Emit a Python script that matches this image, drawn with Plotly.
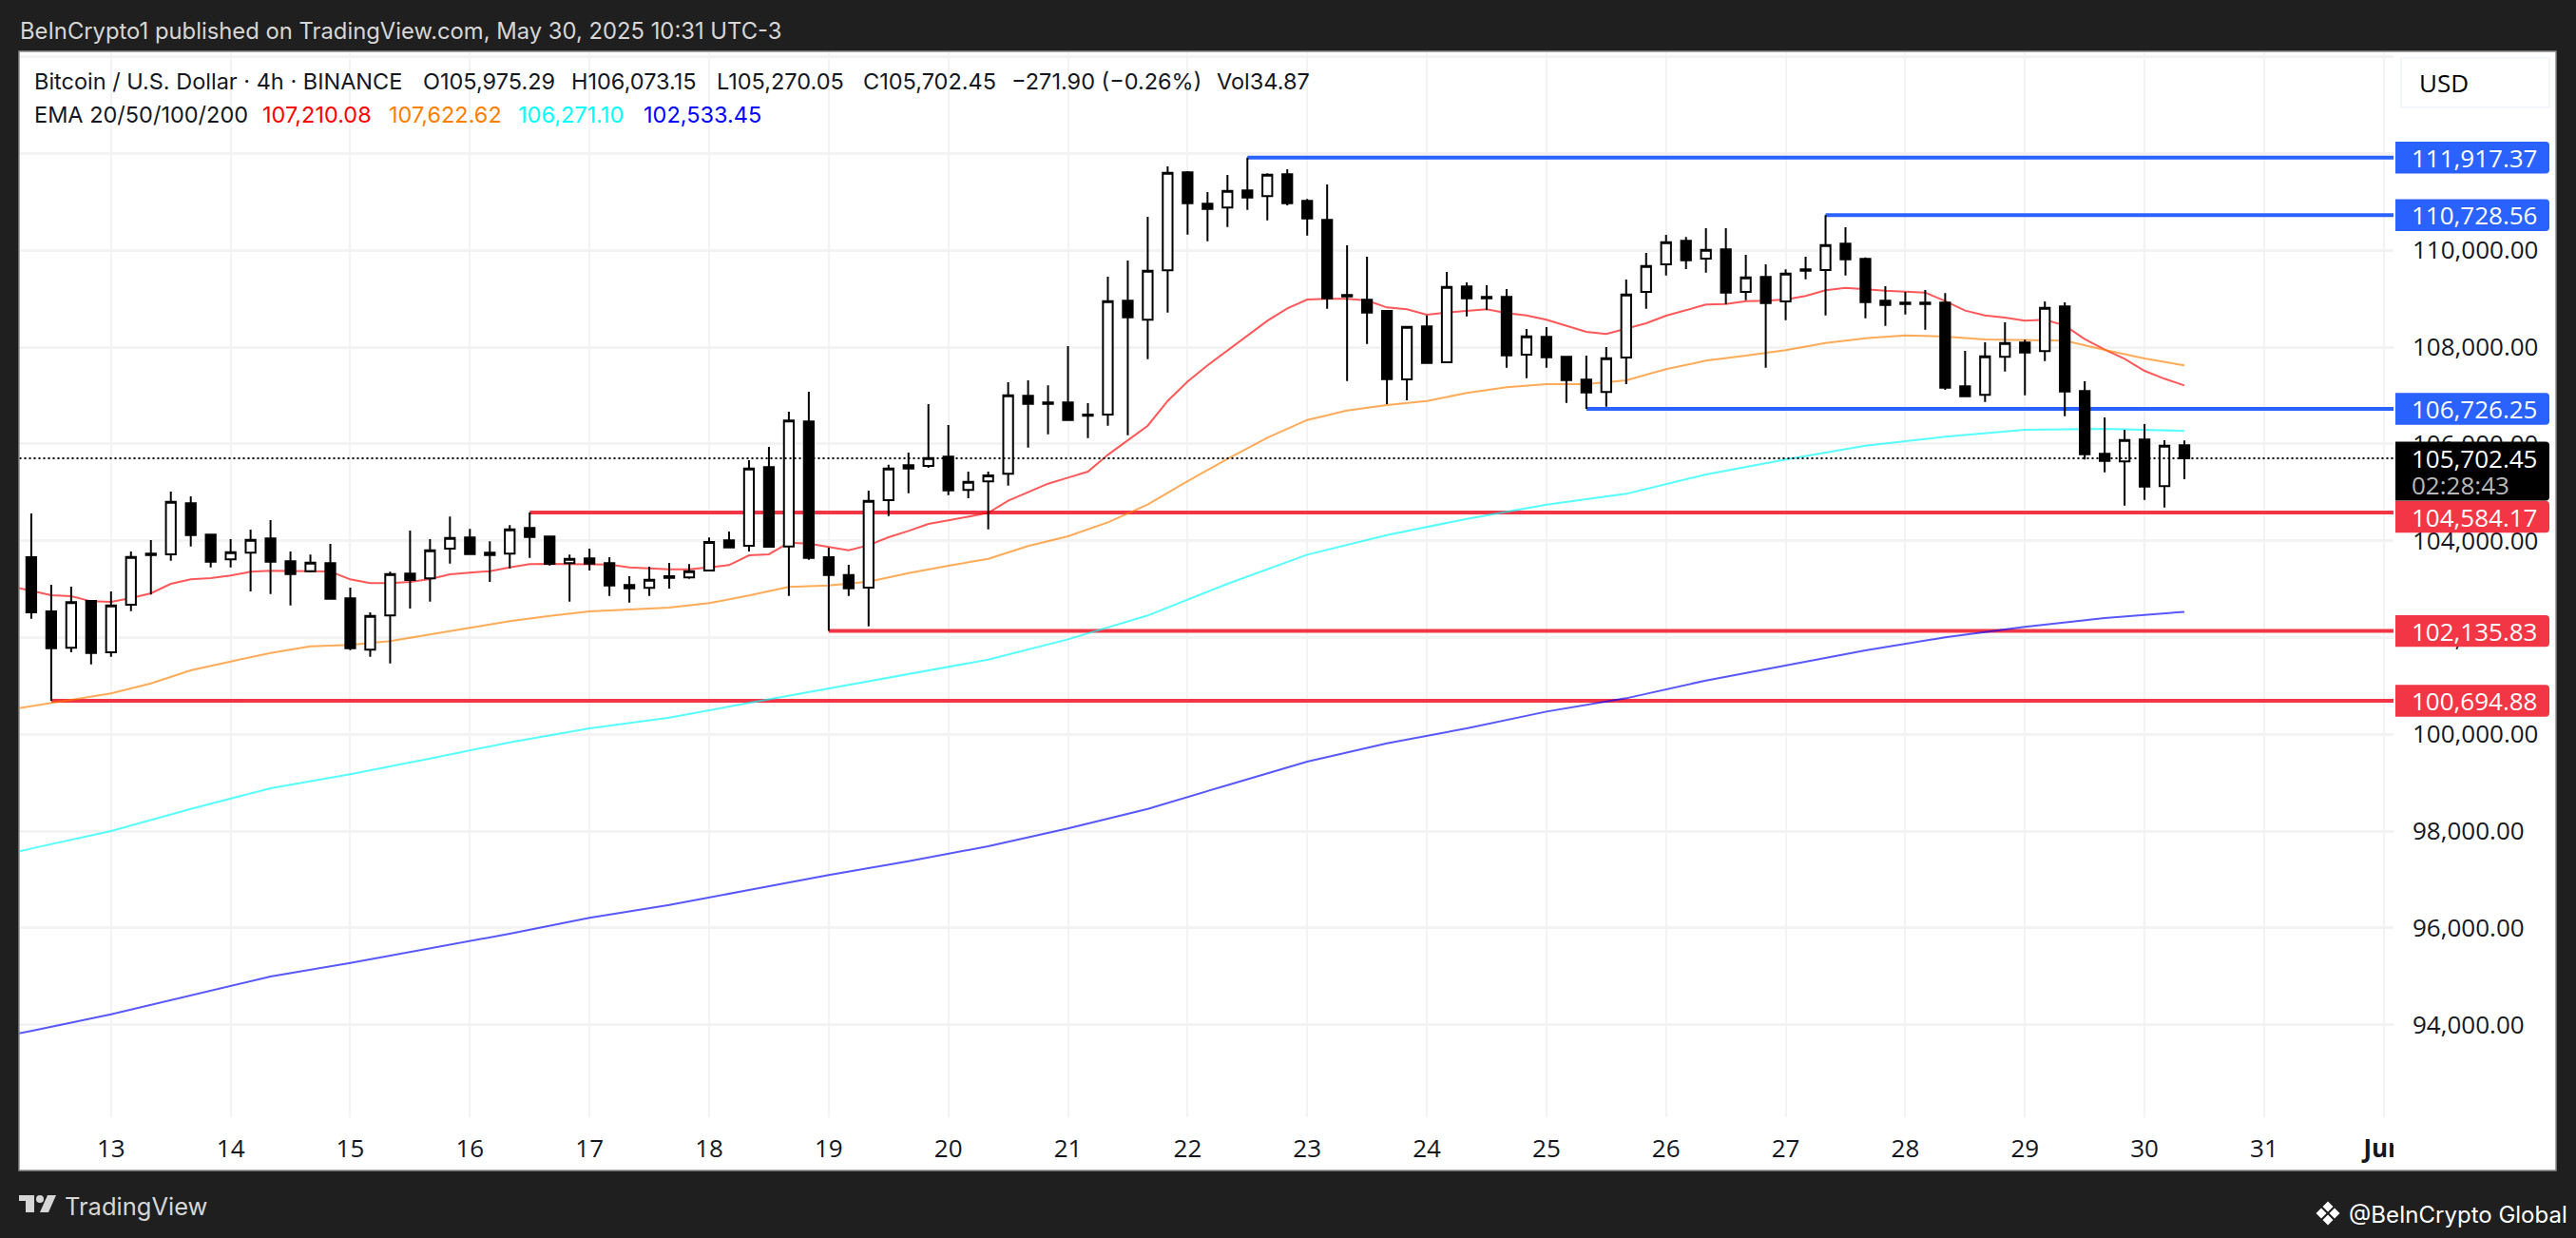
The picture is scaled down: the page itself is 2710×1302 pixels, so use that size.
import pandas as pd
import plotly.graph_objects as go

W = 2710
H = 1302

# 4h candles, May 12 08:00 to May 30 08:00
times = pd.date_range("2025-05-12 08:00", periods=109, freq="4h").strftime("%Y-%m-%d %H:%M").tolist()
lead = "2025-05-12 04:00"  # one bar before the left edge, so the EMAs run off the pane

opens = [103661,102541,101788,102757,101696,102678,103733,103720,104774,104126,
	103615,103752,104047,103575,103372,103536,102809,101748,102456,103320,
	103222,103837,104067,103752,103733,104263,104086,103536,103634,103536,
	103084,103025,103268,103241,103386,104008,103896,105520,103883,106464,
	103661,103294,103032,104839,105560,105547,105737,105049,105226,105383,
	106994,106856,106856,106608,106608,108959,108566,109587,111611,110963,
	110884,111238,111120,111572,111022,110629,109077,108978,108749,107335,
	108428,107688,109253,109037,109037,107845,108212,107800,107328,107073,
	107786,109142,109712,110196,109830,110020,109142,109450,108946,109607,
	109594,110138,109823,108959,108919,108919,108919,107190,107014,107800,
	108094,107917,108841,107092,105796,105638,106090,105128,105975.29]
highs = [104564,103091,103052,102770,102953,103778,104014,105016,104918,104132,
	104034,104230,104427,103778,103713,103936,103032,102521,103359,104211,
	104034,104499,104243,103988,104322,104584,104106,103713,103837,103661,
	103268,103464,103543,103517,104067,104191,105665,105940,106667,107079,
	103857,103503,105036,105573,105822,106824,106392,105429,105429,107276,
	107315,107210,108022,106843,109456,109790,110694,111736,111637,111205,
	111559,111917.37,111591,111677,111061,111362,110105,109869,108762,108428,
	108657,109555,109339,109280,109201,108376,108415,107819,107826,108003,
	109398,109948,110321,110275,110458,110458,109908,109712,109607,109869,
	110728.56,110478,109856,109260,109142,109181,109116,107924,108101,108513,
	108153,108946,108926,107295,106549,106293,106411,106077,106073.15]
lows = [102390,100694.88,101696,101447,101604,102547,102888,103589,103883,103451,
	103451,102953,102901,102665,103346,102796,101742,101604,101467,102600,
	102744,103530,103706,103150,103431,103647,103490,102744,103386,102862,
	102724,102862,103012,103215,103372,103857,103778,103870,102862,103608,
	102135.83,102862,102233,104512,104983,105507,104944,104879,104237,105141,
	105927,106202,106477,106123,106378,106182,107754,108716,110327,110190,
	110485,110838,110622,110930,110308,108795,107302,108068,106824,106902,
	107670,107682,108638,108769,107577,107361,107577,106850,106726.25,106771,
	107236,108795,109483,109614,109542,108887,108972,107577,108559,109404,
	108657,109483,108599,108441,108677,108363,107118,106980,106870,107498,
	107007,107714,106575,105678,105416,104728,104846,104689,105270.05]
closes = [102521,101781,102731,101683,102665,103667,103706,104807,104119,103569,
	103765,104021,103569,103314,103549,102803,101781,102449,103314,103189,
	103805,104060,103726,103706,104237,104080,103523,103628,103530,103078,
	103019,103196,103235,103372,103975,103864,105494,103877,106483,103647,
	103294,103019,104826,105494,105494,105710,105042,105219,105350,107007,
	106830,106830,106496,106581,108952,108618,109581,111605,110976,110858,
	111231,111094,111565,110976,110661,109011,109050,108716,107341,108422,
	107675,109247,109011,109011,107832,108225,107793,107321,107066,107773,
	109090,109679,110170,109797,110013,109129,109443,108913,109522,109581,
	110111,109817,108933,108874,108893,108893,107164,106987,107813,108088,
	107891,108815,107086,105789,105651,106084,105121,105966,105702.45]

# EMA20 read on every bar, EMA50 every 2nd, EMA100/200 every 4th (first value is the lead bar)
ema20 = [103058,102960,102875,102855,102750,102737,102816,102914,103110,103202,103228,
	103281,103359,103379,103379,103372,103366,103202,103124,103124,103150,
	103209,103307,103340,103372,103451,103517,103523,103523,103523,103510,
	103451,103425,103412,103412,103451,103497,103700,103720,103962,103942,
	103870,103805,103909,104073,104204,104348,104420,104499,104577,104826,
	105010,105180,105304,105429,105776,106071,106378,106889,107289,107623,
	107931,108251,108546,108802,108985,108998,108998,108965,108821,108782,
	108671,108716,108756,108782,108703,108657,108566,108448,108317,108271,
	108376,108494,108651,108762,108880,108893,108952,108959,108985,109057,
	109175,109227,109194,109168,109149,109129,108952,108756,108657,108612,
	108546,108566,108448,108166,107950,107760,107511,107348,107210.08]
ema50 = [100517,100583,100714,100845,101054,101323,101506,101683,101820,101847,101925,
	102056,102200,102338,102449,102541,102580,102619,102711,102868,103045,103078,
	103156,103333,103484,103628,103890,104093,104381,104748,105232,105691,106130,
	106496,106693,106804,106889,107053,107171,107236,107236,
	107315,107544,107721,107826,107937,108088,108186,108245,108219,108160,108153,
	108134,107944,107767,107622.62]
ema100 = [97544,97642,98002,98461,98886,99175,99502,99836,100124,100347,100648,
	100949,101257,101545,101964,102456,103110,103713,104119,
	104453,104748,104970,105370,105678,105966,106149,106293,106313,106271.10]
ema200 = [93791,93870,94217,94610,94996,95278,95573,95880,96208,96476,96784,
	97092,97380,97688,98055,98461,98952,99437,99816,
	100124,100471,100746,101113,101427,101735,102004,102220,102403,102533.45]

# drawn support / resistance levels
blue_levels = [111917.37, 110728.56, 106726.25]
blue_starts = ["2025-05-22 12:00", "2025-05-27 08:00", "2025-05-25 08:00"]
red_levels = [104584.17, 102135.83, 100694.88]
red_starts = ["2025-05-16 12:00", "2025-05-19 00:00", "2025-05-12 12:00"]
last_price = 105702.45
countdown = "02:28:43"

day_ticks = pd.date_range("2025-05-13", "2025-06-01", freq="D").strftime("%Y-%m-%d").tolist()
day_labels = [str(d) for d in range(13, 32)] + ["<b>Jun</b>"]
price_ticks = list(range(94000, 114001, 2000))
price_labels = ["{:,.2f}".format(p) for p in price_ticks[:-2]] + ["", ""]

# pane geometry, in page pixels
PANE_L, PANE_R, PANE_T, PANE_B = 20.5, 2518, 55, 1175
x_range = ["2025-05-12 05:38", "2025-06-01 01:57"]
y_range = [92089, 114093]
usd_per_px = (y_range[1] - y_range[0]) / (PANE_B - PANE_T)

BG = "#1f1f1f"
INK = "#131722"
BLUE = "#2962ff"
RED = "#f23645"
GRID = "#f3f3f3"
FONT = "Inter"
TICK_FONT = "Open Sans"


def px(x):
	return x / W


def py(y):
	return 1 - y / H


def poly(points):
	return "M" + " L".join("%.5f,%.5f" % (px(x), py(y)) for x, y in points) + " Z"


def tag_path(level, shift_px=0, up_px=16.7, down_px=16.7):
	# label box on the price scale, rounded on its right side
	x0, x1 = px(2520), px(2682)
	rx = 4 / W
	ry = 4 * usd_per_px
	top = level - shift_px * usd_per_px + up_px * usd_per_px
	bot = level - shift_px * usd_per_px - down_px * usd_per_px
	return "M%.5f,%.2f L%.5f,%.2f Q%.5f,%.2f %.5f,%.2f L%.5f,%.2f Q%.5f,%.2f %.5f,%.2f L%.5f,%.2f Z" % (
		x0, top, x1 - rx, top, x1, top, x1, top - ry, x1, bot + ry, x1, bot, x1 - rx, bot, x0, bot)


fig = go.Figure()

for levels, starts, color in [(blue_levels, blue_starts, BLUE), (red_levels, red_starts, RED)]:
	for lev, st in zip(levels, starts):
		fig.add_trace(go.Scatter(x=[st, x_range[1]], y=[lev, lev], mode="lines",
			line=dict(color=color, width=4), hoverinfo="skip"))

ema_series = [
	(ema20, [lead] + times, "#ff0000"),
	(ema50, [lead] + times[::2], "#ff7f00"),
	(ema100, [lead] + times[::4], "#00ffff"),
	(ema200, [lead] + times[::4], "#0000ff"),
]
for vals, xs, color in ema_series:
	fig.add_trace(go.Scatter(x=xs, y=vals, mode="lines", opacity=0.65,
		line=dict(color=color, width=2), hoverinfo="skip"))

# candles go on an overlaying pair of axes, otherwise the scatter layer ends up above them
fig.add_trace(go.Candlestick(x=times, open=opens, high=highs, low=lows, close=closes,
	xaxis="x2", yaxis="y2",
	increasing=dict(fillcolor="#ffffff", line=dict(color="#000000", width=2)),
	decreasing=dict(fillcolor="#000000", line=dict(color="#000000", width=2)),
	whiskerwidth=0, hoverinfo="skip"))
fig.add_trace(go.Scatter(x=x_range, y=[last_price, last_price], mode="lines", xaxis="x2", yaxis="y2",
	line=dict(color="#000000", width=2, dash="2px,3px"), hoverinfo="skip"))

domain_x = [px(PANE_L), px(PANE_R)]
domain_y = [py(PANE_B), py(PANE_T)]

shapes = [
	# white frame of the chart
	dict(type="rect", xref="paper", yref="paper", layer="below", x0=px(20), x1=px(2689), y0=py(1231), y1=py(54),
		fillcolor="#ffffff", line=dict(color="#8a8a8a", width=1.5)),
	# Jun label is cut off by the price scale
	dict(type="rect", xref="paper", yref="paper", layer="above", x0=px(2518), x1=px(2540), y0=py(1225), y1=py(1185),
		fillcolor="#ffffff", line=dict(width=0)),
	# USD button
	dict(type="rect", xref="paper", yref="paper", layer="above", x0=px(2526), x1=px(2682), y0=py(113), y1=py(61),
		fillcolor="#ffffff", line=dict(color="#f0f3fa", width=1.5)),
	# TradingView logo
	dict(type="path", xref="paper", yref="paper", layer="above", fillcolor="#d6d6d6", line=dict(width=0),
		path=poly([(20, 1257), (36, 1257), (36, 1275), (27, 1275), (27, 1263), (20, 1263)])),
	dict(type="circle", xref="paper", yref="paper", layer="above", fillcolor="#d6d6d6", line=dict(width=0),
		x0=px(38), x1=px(46), y0=py(1265), y1=py(1257)),
	dict(type="path", xref="paper", yref="paper", layer="above", fillcolor="#d6d6d6", line=dict(width=0),
		path=poly([(50, 1257), (59, 1257), (51, 1275), (42, 1275)])),
]
# BeInCrypto mark, four small diamonds
for cx, cy in [(2449, 1269), (2449, 1283), (2442, 1276), (2456, 1276)]:
	shapes.append(dict(type="path", xref="paper", yref="paper", layer="above", fillcolor="#ffffff", line=dict(width=0),
		path=poly([(cx, cy - 5.5), (cx + 5.5, cy), (cx, cy + 5.5), (cx - 5.5, cy)])))

annotations = []


def note(text, x, y, size=23.5, color=INK, font=FONT, yref="paper", yshift=0):
	annotations.append(dict(text=text, x=px(x), y=py(y) if yref == "paper" else y, xref="paper", yref=yref,
		xanchor="left", yanchor="middle", showarrow=False, yshift=yshift, borderpad=0, borderwidth=0,
		font=dict(family=font, size=size, color=color)))


# price tags
for lev in blue_levels:
	shapes.append(dict(type="path", xref="paper", yref="y", layer="above", fillcolor=BLUE, line=dict(width=0), path=tag_path(lev)))
	note("{:,.2f}".format(lev), 2537, lev, size=26, color="#ffffff", font=TICK_FONT, yref="y")
for i, lev in enumerate(red_levels):
	shift = 4.5 if i == 0 else 0  # pushed down by the last price tag
	shapes.append(dict(type="path", xref="paper", yref="y", layer="above", fillcolor=RED, line=dict(width=0), path=tag_path(lev, shift)))
	note("{:,.2f}".format(lev), 2537, lev, size=26, color="#ffffff", font=TICK_FONT, yref="y", yshift=-shift)
shapes.append(dict(type="path", xref="paper", yref="y", layer="above", fillcolor="#000000", line=dict(width=0),
	path=tag_path(last_price, 0, 17.5, 44.5)))
note("{:,.2f}".format(last_price), 2537, last_price, size=26, color="#ffffff", font=TICK_FONT, yref="y")
note(countdown, 2537, last_price, size=26, color="#b8b8b8", font=TICK_FONT, yref="y", yshift=-28)

note("USD", 2545, 87, size=26, color="#000000", font=TICK_FONT)

# header, first line
note("BeInCrypto1 published on TradingView.com, May 30, 2025 10:31 UTC-3", 21, 32, size=23.8, color="#d6d6d6")
note("Bitcoin / U.S. Dollar · 4h · BINANCE", 36, 86)
note("O105,975.29", 445, 86)
note("H106,073.15", 601, 86)
note("L105,270.05", 754, 86)
note("C105,702.45", 908, 86)
note("−271.90 (−0.26%)", 1064, 86)
note("Vol34.87", 1280, 86)
# header, second line
note("EMA 20/50/100/200", 36, 120)
note("107,210.08", 275.5, 120, color="#ff0000")
note("107,622.62", 409, 120, color="#ff7f00")
note("106,271.10", 545, 120, color="#00ffff")
note("102,533.45", 677, 120, color="#0000ff")
# footer
note("TradingView", 68, 1268, size=25.5, color="#d6d6d6")
note("@BeInCrypto Global", 2471, 1277, size=24, color="#ffffff")

fig.update_layout(
	width=W, height=H, autosize=False, showlegend=False,
	margin=dict(l=0, r=0, t=0, b=0, autoexpand=False),
	paper_bgcolor=BG, plot_bgcolor="rgba(0,0,0,0)",
	shapes=shapes, annotations=annotations,
	xaxis=dict(domain=domain_x, type="date", range=x_range, tickmode="array", tickvals=day_ticks, ticktext=day_labels,
		showgrid=True, gridcolor=GRID, gridwidth=1.5, zeroline=False, showline=False, ticks="",
		ticklabelstandoff=15, tickfont=dict(family=TICK_FONT, size=26, color=INK), rangeslider=dict(visible=False)),
	yaxis=dict(domain=domain_y, range=y_range, side="right", tickmode="array", tickvals=price_ticks, ticktext=price_labels,
		showgrid=True, gridcolor=GRID, gridwidth=2.5, zeroline=False, showline=False, ticks="",
		ticklabelstandoff=19, tickfont=dict(family=TICK_FONT, size=26, color=INK)),
	xaxis2=dict(domain=domain_x, type="date", range=x_range, overlaying="x", visible=False, rangeslider=dict(visible=False)),
	yaxis2=dict(domain=domain_y, range=y_range, overlaying="y", visible=False),
)

fig.write_html("out.html", config=dict(displayModeBar=False),
	post_script="document.body.style.margin='0';document.documentElement.style.overflow='hidden';")
